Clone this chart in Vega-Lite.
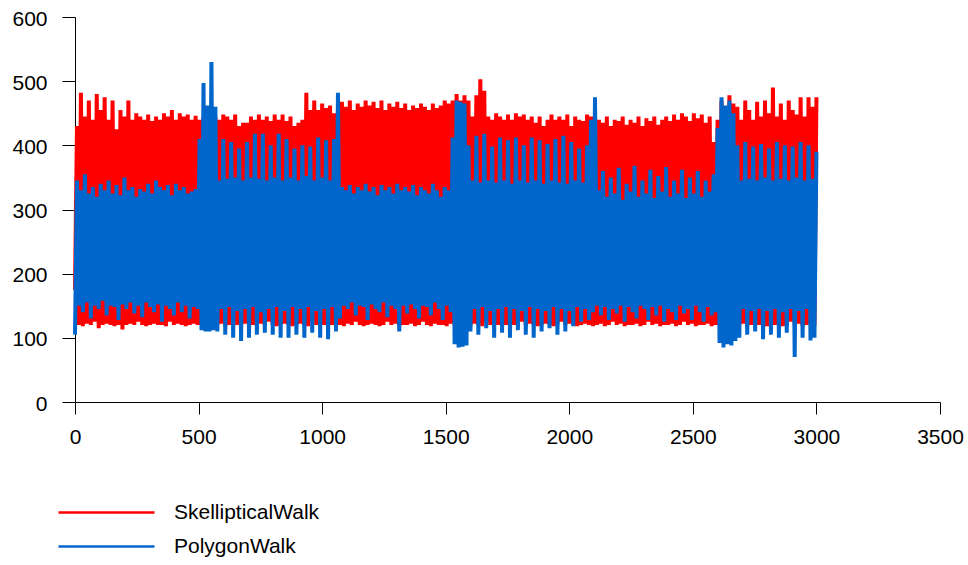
{
  "$schema": "https://vega.github.io/schema/vega-lite/v6.json",
  "width": 865,
  "height": 385,
  "autosize": "none",
  "padding": {"left": 75, "top": 17, "right": 28, "bottom": 163},
  "background": "white",
  "config": {"view": {"stroke": null}, "font": "Liberation Sans"},
  "data": {"values": [
{"x":0,"r":175,"b":105},{"x":8,"r":430,"b":345},{"x":16,"r":120,"b":150},{"x":24,"r":482,"b":330},{"x":32,"r":118,"b":140},{"x":40,"r":445,"b":355},{"x":48,"r":122,"b":155},{"x":56,"r":470,"b":325},{"x":64,"r":120,"b":130},{"x":72,"r":440,"b":335},{"x":80,"r":125,"b":150},{"x":88,"r":480,"b":320},{"x":96,"r":115,"b":145},{"x":104,"r":455,"b":340},{"x":112,"r":120,"b":158},{"x":120,"r":475,"b":330},{"x":128,"r":122,"b":135},{"x":136,"r":440,"b":345},{"x":144,"r":120,"b":150},{"x":152,"r":470,"b":325},{"x":160,"r":118,"b":148},{"x":168,"r":425,"b":338},{"x":176,"r":120,"b":128},{"x":184,"r":455,"b":322},{"x":192,"r":113,"b":152},{"x":200,"r":445,"b":350},{"x":208,"r":120,"b":145},{"x":216,"r":470,"b":330},{"x":224,"r":122,"b":155},{"x":232,"r":440,"b":335},{"x":240,"r":120,"b":138},{"x":248,"r":450,"b":320},{"x":256,"r":125,"b":150},{"x":264,"r":445,"b":332},{"x":272,"r":120,"b":132},{"x":280,"r":440,"b":328},{"x":288,"r":118,"b":155},{"x":296,"r":448,"b":340},{"x":304,"r":120,"b":148},{"x":312,"r":438,"b":325},{"x":320,"r":122,"b":140},{"x":328,"r":445,"b":345},{"x":336,"r":120,"b":152},{"x":344,"r":440,"b":335},{"x":352,"r":120,"b":125},{"x":360,"r":450,"b":330},{"x":368,"r":118,"b":150},{"x":376,"r":445,"b":338},{"x":384,"r":125,"b":145},{"x":392,"r":455,"b":322},{"x":400,"r":120,"b":135},{"x":408,"r":440,"b":340},{"x":416,"r":122,"b":155},{"x":424,"r":450,"b":330},{"x":432,"r":120,"b":140},{"x":440,"r":445,"b":335},{"x":448,"r":118,"b":150},{"x":456,"r":448,"b":325},{"x":464,"r":120,"b":130},{"x":472,"r":440,"b":328},{"x":480,"r":122,"b":148},{"x":488,"r":446,"b":332},{"x":496,"r":120,"b":145},
{"x":504,"r":440,"b":410},{"x":512,"r":120,"b":112},{"x":520,"r":445,"b":497},{"x":528,"r":122,"b":110},{"x":536,"r":440,"b":462},{"x":544,"r":120,"b":110},{"x":552,"r":445,"b":530},{"x":560,"r":120,"b":112},
{"x":568,"r":445,"b":460},{"x":576,"r":120,"b":110},{"x":584,"r":440,"b":345},{"x":592,"r":122,"b":145},{"x":600,"r":448,"b":410},{"x":608,"r":118,"b":105},{"x":616,"r":445,"b":348},{"x":624,"r":120,"b":148},{"x":632,"r":440,"b":405},{"x":640,"r":125,"b":100},{"x":648,"r":448,"b":350},{"x":656,"r":120,"b":142},{"x":664,"r":430,"b":395},{"x":672,"r":118,"b":95},{"x":680,"r":435,"b":345},{"x":688,"r":122,"b":145},{"x":696,"r":435,"b":405},{"x":704,"r":120,"b":100},{"x":712,"r":445,"b":350},{"x":720,"r":120,"b":148},{"x":728,"r":440,"b":418},{"x":736,"r":118,"b":105},{"x":744,"r":448,"b":348},{"x":752,"r":122,"b":140},{"x":760,"r":440,"b":418},{"x":768,"r":120,"b":108},{"x":776,"r":445,"b":345},{"x":784,"r":125,"b":145},{"x":792,"r":438,"b":400},{"x":800,"r":120,"b":105},{"x":808,"r":448,"b":350},{"x":816,"r":118,"b":148},{"x":824,"r":440,"b":418},{"x":832,"r":120,"b":100},{"x":840,"r":448,"b":345},{"x":848,"r":122,"b":142},{"x":856,"r":438,"b":410},{"x":864,"r":120,"b":100},{"x":872,"r":445,"b":350},{"x":880,"r":118,"b":148},{"x":888,"r":430,"b":395},{"x":896,"r":120,"b":105},{"x":904,"r":435,"b":345},{"x":912,"r":122,"b":145},{"x":920,"r":440,"b":400},{"x":928,"r":120,"b":100},{"x":936,"r":482,"b":352},{"x":944,"r":118,"b":148},{"x":952,"r":455,"b":398},{"x":960,"r":125,"b":108},{"x":968,"r":470,"b":345},{"x":976,"r":120,"b":142},{"x":984,"r":455,"b":412},{"x":992,"r":122,"b":100},{"x":1000,"r":465,"b":350},{"x":1008,"r":120,"b":145},{"x":1016,"r":458,"b":408},{"x":1024,"r":118,"b":98},{"x":1032,"r":462,"b":345},{"x":1040,"r":120,"b":148},{"x":1048,"r":450,"b":410},{"x":1056,"r":122,"b":110},
{"x":1064,"r":455,"b":482},{"x":1072,"r":120,"b":130},{"x":1080,"r":468,"b":335},{"x":1088,"r":118,"b":150},{"x":1096,"r":460,"b":330},{"x":1104,"r":122,"b":145},{"x":1112,"r":470,"b":338},{"x":1120,"r":120,"b":155},{"x":1128,"r":455,"b":325},{"x":1136,"r":125,"b":135},{"x":1144,"r":465,"b":335},{"x":1152,"r":120,"b":150},{"x":1160,"r":460,"b":330},{"x":1168,"r":118,"b":148},{"x":1176,"r":470,"b":340},{"x":1184,"r":120,"b":128},{"x":1192,"r":462,"b":328},{"x":1200,"r":122,"b":152},{"x":1208,"r":468,"b":335},{"x":1216,"r":120,"b":145},{"x":1224,"r":458,"b":322},{"x":1232,"r":118,"b":140},{"x":1240,"r":470,"b":338},{"x":1248,"r":120,"b":155},{"x":1256,"r":455,"b":330},{"x":1264,"r":125,"b":132},{"x":1272,"r":465,"b":335},{"x":1280,"r":120,"b":150},{"x":1288,"r":460,"b":325},{"x":1296,"r":122,"b":145},{"x":1304,"r":468,"b":340},{"x":1312,"r":118,"b":110},{"x":1320,"r":458,"b":330},{"x":1328,"r":120,"b":150},{"x":1336,"r":465,"b":335},{"x":1344,"r":120,"b":138},{"x":1352,"r":455,"b":328},{"x":1360,"r":122,"b":152},{"x":1368,"r":462,"b":338},{"x":1376,"r":118,"b":145},{"x":1384,"r":458,"b":322},{"x":1392,"r":120,"b":130},{"x":1400,"r":465,"b":335},{"x":1408,"r":125,"b":150},{"x":1416,"r":460,"b":330},{"x":1424,"r":120,"b":148},{"x":1432,"r":455,"b":325},{"x":1440,"r":118,"b":135},{"x":1448,"r":465,"b":340},{"x":1456,"r":122,"b":155},{"x":1464,"r":458,"b":330},{"x":1472,"r":120,"b":145},{"x":1480,"r":462,"b":320},{"x":1488,"r":120,"b":128},{"x":1496,"r":470,"b":335},{"x":1504,"r":118,"b":150},{"x":1512,"r":465,"b":330},{"x":1520,"r":122,"b":140},
{"x":1528,"r":470,"b":412},{"x":1536,"r":120,"b":90},{"x":1544,"r":480,"b":470},{"x":1552,"r":118,"b":85},{"x":1560,"r":470,"b":468},{"x":1568,"r":120,"b":86},{"x":1576,"r":478,"b":465},
{"x":1584,"r":120,"b":88},{"x":1592,"r":470,"b":400},{"x":1600,"r":118,"b":110},{"x":1608,"r":445,"b":345},{"x":1616,"r":122,"b":145},{"x":1624,"r":478,"b":415},{"x":1632,"r":120,"b":105},{"x":1640,"r":503,"b":342},{"x":1648,"r":118,"b":148},{"x":1656,"r":485,"b":418},{"x":1664,"r":125,"b":115},{"x":1672,"r":445,"b":345},{"x":1680,"r":120,"b":142},{"x":1688,"r":440,"b":398},{"x":1696,"r":122,"b":100},{"x":1704,"r":450,"b":342},{"x":1712,"r":120,"b":145},{"x":1720,"r":445,"b":412},{"x":1728,"r":118,"b":108},{"x":1736,"r":440,"b":345},{"x":1744,"r":120,"b":148},{"x":1752,"r":448,"b":408},{"x":1760,"r":122,"b":100},{"x":1768,"r":440,"b":340},{"x":1776,"r":120,"b":145},{"x":1784,"r":450,"b":412},{"x":1792,"r":118,"b":112},{"x":1800,"r":445,"b":345},{"x":1808,"r":125,"b":142},{"x":1816,"r":448,"b":400},{"x":1824,"r":120,"b":105},{"x":1832,"r":440,"b":342},{"x":1840,"r":122,"b":148},{"x":1848,"r":445,"b":412},{"x":1856,"r":120,"b":100},{"x":1864,"r":435,"b":345},{"x":1872,"r":118,"b":145},{"x":1880,"r":445,"b":408},{"x":1888,"r":120,"b":110},{"x":1896,"r":430,"b":340},{"x":1904,"r":122,"b":142},{"x":1912,"r":440,"b":402},{"x":1920,"r":120,"b":115},{"x":1928,"r":448,"b":345},{"x":1936,"r":118,"b":148},{"x":1944,"r":440,"b":410},{"x":1952,"r":120,"b":105},{"x":1960,"r":445,"b":342},{"x":1968,"r":125,"b":145},{"x":1976,"r":440,"b":415},{"x":1984,"r":120,"b":110},{"x":1992,"r":448,"b":340},{"x":2000,"r":122,"b":142},{"x":2008,"r":430,"b":405},{"x":2016,"r":120,"b":118},{"x":2024,"r":445,"b":345},{"x":2032,"r":118,"b":148},{"x":2040,"r":440,"b":395},{"x":2048,"r":120,"b":125},{"x":2056,"r":438,"b":342},{"x":2064,"r":122,"b":145},{"x":2072,"r":448,"b":400},{"x":2080,"r":120,"b":128},{"x":2088,"r":445,"b":440},{"x":2096,"r":118,"b":140},
{"x":2104,"r":450,"b":475},{"x":2112,"r":120,"b":150},{"x":2120,"r":440,"b":330},{"x":2128,"r":122,"b":135},{"x":2136,"r":435,"b":360},{"x":2144,"r":118,"b":148},{"x":2152,"r":445,"b":320},{"x":2160,"r":120,"b":128},{"x":2168,"r":430,"b":350},{"x":2176,"r":125,"b":145},{"x":2184,"r":440,"b":325},{"x":2192,"r":120,"b":138},{"x":2200,"r":438,"b":365},{"x":2208,"r":122,"b":150},{"x":2216,"r":445,"b":315},{"x":2224,"r":118,"b":125},{"x":2232,"r":432,"b":340},{"x":2240,"r":120,"b":148},{"x":2248,"r":440,"b":328},{"x":2256,"r":120,"b":140},{"x":2264,"r":435,"b":368},{"x":2272,"r":122,"b":130},{"x":2280,"r":445,"b":320},{"x":2288,"r":118,"b":150},{"x":2296,"r":430,"b":345},{"x":2304,"r":120,"b":145},{"x":2312,"r":442,"b":325},{"x":2320,"r":125,"b":128},{"x":2328,"r":438,"b":362},{"x":2336,"r":120,"b":148},{"x":2344,"r":445,"b":318},{"x":2352,"r":122,"b":135},{"x":2360,"r":432,"b":352},{"x":2368,"r":118,"b":150},{"x":2376,"r":440,"b":328},{"x":2384,"r":120,"b":125},{"x":2392,"r":445,"b":366},{"x":2400,"r":120,"b":145},{"x":2408,"r":438,"b":320},{"x":2416,"r":122,"b":140},{"x":2424,"r":448,"b":345},{"x":2432,"r":118,"b":128},{"x":2440,"r":440,"b":325},{"x":2448,"r":120,"b":150},{"x":2456,"r":450,"b":362},{"x":2464,"r":125,"b":138},{"x":2472,"r":445,"b":318},{"x":2480,"r":120,"b":145},{"x":2488,"r":438,"b":350},{"x":2496,"r":122,"b":128},{"x":2504,"r":450,"b":325},{"x":2512,"r":118,"b":150},{"x":2520,"r":442,"b":360},{"x":2528,"r":120,"b":140},{"x":2536,"r":448,"b":320},{"x":2544,"r":120,"b":125},{"x":2552,"r":435,"b":345},{"x":2560,"r":122,"b":148},{"x":2568,"r":445,"b":328},{"x":2576,"r":118,"b":135},{"x":2584,"r":405,"b":355},{"x":2592,"r":120,"b":140},{"x":2600,"r":440,"b":427},
{"x":2608,"r":120,"b":92},{"x":2616,"r":470,"b":475},{"x":2624,"r":118,"b":85},{"x":2632,"r":448,"b":462},{"x":2640,"r":120,"b":90},{"x":2648,"r":478,"b":470},{"x":2656,"r":122,"b":88},{"x":2664,"r":465,"b":450},{"x":2672,"r":120,"b":95},
{"x":2680,"r":460,"b":400},{"x":2688,"r":120,"b":100},{"x":2696,"r":440,"b":345},{"x":2704,"r":122,"b":145},{"x":2712,"r":470,"b":405},{"x":2720,"r":118,"b":105},{"x":2728,"r":455,"b":348},{"x":2736,"r":120,"b":142},{"x":2744,"r":440,"b":398},{"x":2752,"r":125,"b":110},{"x":2760,"r":468,"b":345},{"x":2768,"r":120,"b":145},{"x":2776,"r":445,"b":402},{"x":2784,"r":122,"b":98},{"x":2792,"r":470,"b":350},{"x":2800,"r":118,"b":142},{"x":2808,"r":450,"b":395},{"x":2816,"r":120,"b":105},{"x":2824,"r":490,"b":345},{"x":2832,"r":120,"b":145},{"x":2840,"r":445,"b":405},{"x":2848,"r":122,"b":100},{"x":2856,"r":465,"b":348},{"x":2864,"r":118,"b":140},{"x":2872,"r":440,"b":400},{"x":2880,"r":120,"b":108},{"x":2888,"r":470,"b":345},{"x":2896,"r":125,"b":145},{"x":2904,"r":455,"b":398},{"x":2912,"r":120,"b":70},{"x":2920,"r":448,"b":350},{"x":2928,"r":122,"b":142},{"x":2936,"r":475,"b":405},{"x":2944,"r":118,"b":100},{"x":2952,"r":445,"b":345},{"x":2960,"r":120,"b":145},{"x":2968,"r":475,"b":400},{"x":2976,"r":122,"b":96},{"x":2984,"r":460,"b":348},{"x":2992,"r":120,"b":100},{"x":3000,"r":475,"b":390}
  ]},
  "encoding": {
    "x": {
      "field": "x", "type": "quantitative",
      "scale": {"domain": [0, 3500], "nice": false, "zero": false},
      "axis": {
        "title": null, "grid": false, "values": [0, 500, 1000, 1500, 2000, 2500, 3000, 3500], "format": "d",
        "tickSize": 12, "tickColor": "#000000", "domainColor": "#000000", "tickWidth": 1, "domainWidth": 1,
        "labelFontSize": 21, "labelColor": "#000000", "labelPadding": 12, "labelFlush": false, "labelOverlap": false
      }
    }
  },
  "layer": [
    {
      "mark": {"type": "line", "strokeWidth": 4, "strokeJoin": "bevel"},
      "encoding": {
        "y": {
          "field": "r", "type": "quantitative",
          "scale": {"domain": [0, 600], "nice": false},
          "axis": {
            "title": null, "grid": false, "values": [0, 100, 200, 300, 400, 500, 600], "format": "d",
            "tickSize": 13, "tickColor": "#000000", "domainColor": "#000000", "tickWidth": 1, "domainWidth": 1,
            "labelFontSize": 21, "labelColor": "#000000", "labelPadding": 15, "labelOffset": 2, "labelFlush": false, "labelOverlap": false
          }
        },
        "color": {
          "datum": "SkellipticalWalk", "type": "nominal",
          "scale": {"domain": ["SkellipticalWalk", "PolygonWalk"], "range": ["#FF0000", "#0066CC"]},
          "legend": {
            "title": null, "orient": "none", "legendX": -18, "legendY": 485,
            "symbolType": "stroke", "symbolSize": 9216, "symbolStrokeWidth": 2.5,
            "clipHeight": 21, "rowPadding": 12, "labelOffset": 18, "padding": 0,
            "labelFontSize": 21, "labelColor": "#000000", "labelLimit": 400
          }
        }
      }
    },
    {
      "mark": {"type": "line", "strokeWidth": 4, "strokeJoin": "bevel"},
      "encoding": {
        "y": {"field": "b", "type": "quantitative"},
        "color": {"datum": "PolygonWalk", "type": "nominal"}
      }
    }
  ]
}
